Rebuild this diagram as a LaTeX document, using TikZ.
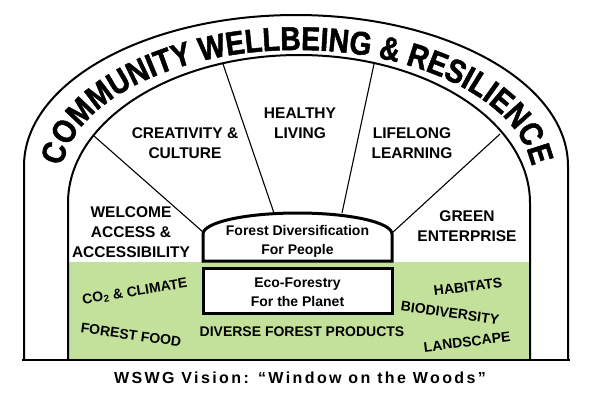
\documentclass[tikz,border=0pt]{standalone}
\usepackage{fontspec}
\setmainfont{Liberation Sans}
\newfontfamily\archfont{Liberation Sans}[FakeStretch=0.86,FakeBold=1.5]
\usetikzlibrary{decorations.text}
\definecolor{woodGreen}{RGB}{195,225,155}
\tikzset{
  archLine/.style={line width=2pt},
  boxLine/.style={line width=3pt, fill=white},
  spokeLine/.style={line width=1.1pt},
  themeTxt/.style={font=\bfseries\fontsize{15.5}{20}\selectfont, align=center, inner sep=0pt},
  boxTxt/.style={font=\bfseries\fontsize{14}{19}\selectfont, align=center, inner sep=0pt},
  groundTxt/.style={font=\bfseries\fontsize{14}{16}\selectfont, inner sep=0pt}
}
\begin{document}
\begin{tikzpicture}[x=1pt,y=-1pt]
\useasboundingbox (0,0) rectangle (600,400);
\newcommand{\nGround}{360}
\coordinate (cOutLPt) at (24, \nGround);
\coordinate (cOutRPt) at (568, \nGround);
\coordinate (cInLPt) at (68, \nGround);
\coordinate (cInRPt) at (530, \nGround);

% green ground
\fill[woodGreen] (68,262) rectangle (cInRPt);

% the two arches
\draw[archLine] (cOutLPt) -- (24,166) arc [start angle=180, end angle=360, x radius=272, y radius=151] -- (cOutRPt);
\draw[archLine] (cInLPt) -- (68,203) arc [start angle=180, end angle=360, x radius=231, y radius=148] -- (cInRPt);
\draw[line width=2.5pt] (22,\nGround) -- (570,\nGround);

% arch text
\path[decorate, decoration={text along path, text align=center,
  text={|\archfont\bfseries\fontsize{33}{33}\selectfont|COMMUNITY WELLBEING {\&} RESILIENCE}}]
  (61,180) arc [start angle=180, end angle=360, x radius=236, y radius=130];

% spokes
\coordinate (cS1aPt) at (94,136);
\coordinate (cS1bPt) at (203,232);
\coordinate (cS2aPt) at (223,64);
\coordinate (cS2bPt) at (274,213);
\coordinate (cS3aPt) at (374,64);
\coordinate (cS3bPt) at (342,213);
\coordinate (cS4aPt) at (500,134);
\coordinate (cS4bPt) at (392,233);
\foreach \v/\u in {S1aPt/S1bPt, S2aPt/S2bPt, S3aPt/S3bPt, S4aPt/S4bPt}
{
    \draw[spokeLine] (c\v)--(c\u);
};

% centre boxes
\draw[boxLine] (203,261) -- (203,234) arc [start angle=180, end angle=360, x radius=94.5, y radius=21] -- (392,261) -- cycle;
\draw[boxLine] (203,268) rectangle (392,313);
\node[boxTxt] (nPeople) at (297.5,241) {Forest Diversification\\For People};
\node[boxTxt] (nPlanet) at (297.5,292.5) {Eco-Forestry\\For the Planet};

% themes
\node[themeTxt] (nWelcome) at (131,232) {WELCOME\\ACCESS \&\\ACCESSIBILITY};
\node[themeTxt] (nCreative) at (185,143) {CREATIVITY \&\\CULTURE};
\node[themeTxt] (nHealthy) at (300,123) {HEALTHY\\LIVING};
\node[themeTxt] (nLifelong) at (412,143) {LIFELONG\\LEARNING};
\node[themeTxt] (nGreen) at (467,226) {GREEN\\ENTERPRISE};

% ground texts
\node[groundTxt, rotate=9] (nClimate) at (135,292) {CO\textsubscript{2} \& CLIMATE};
\node[groundTxt, rotate=-8] (nFood) at (131,335) {FOREST FOOD};
\node[groundTxt] (nProducts) at (302,332) {DIVERSE FOREST PRODUCTS};
\node[groundTxt, rotate=7] (nHabitats) at (468,287) {HABITATS};
\node[groundTxt, rotate=-8] (nBiodiv) at (450,313) {BIODIVERSITY};
\node[groundTxt, rotate=7] (nLandscape) at (467,342) {LANDSCAPE};

\node[inner sep=0pt, font=\bfseries\fontsize{16}{18}\selectfont\addfontfeatures{LetterSpace=15}] (nVision) at (300,378) {WSWG Vision: “Window on the Woods”};
\end{tikzpicture}
\end{document}
